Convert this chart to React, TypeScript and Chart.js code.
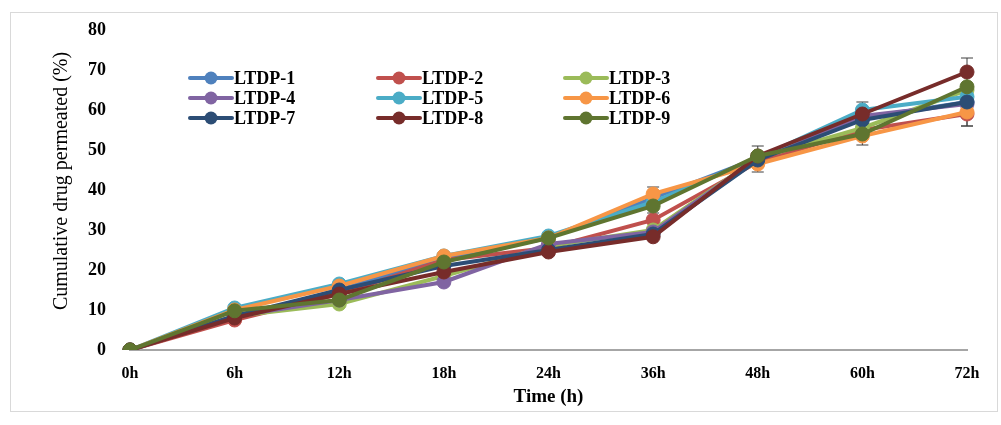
import React, { useEffect, useRef } from "react";
import { Chart, registerables } from "chart.js";

Chart.register(...registerables);

const timeLabels = ["0h", "6h", "12h", "18h", "24h", "36h", "48h", "60h", "72h"];
const yTicks = [0, 10, 20, 30, 40, 50, 60, 70, 80];

const seriesNames = ["LTDP-1", "LTDP-2", "LTDP-3", "LTDP-4", "LTDP-5", "LTDP-6", "LTDP-7", "LTDP-8", "LTDP-9"];
const seriesColors = ["#4F81BD", "#C0504D", "#9BBB59", "#8064A2", "#4BACC6", "#F79646", "#2C4D75", "#772C2A", "#5F7530"];

const ltdp1 = [0, 8, 15, 23, 28, 38, 48, 58, 62];
const ltdp2 = [0, 7.5, 14, 22.5, 25.5, 32.5, 47, 55, 59];
const ltdp3 = [0, 8.5, 11.5, 18.5, 26, 30, 48, 55.5, 65];
const ltdp4 = [0, 8.5, 12.5, 17, 26.5, 29.5, 48, 58.5, 61.5];
const ltdp5 = [0, 10.5, 16.5, 23.5, 28.5, 37, 48, 60, 63.3];
const ltdp6 = [0, 10, 16, 23.5, 28, 39, 46.5, 53.5, 59.5];
const ltdp7 = [0, 8.5, 15, 21, 25, 29, 47.5, 57.5, 62];
const ltdp8 = [0, 8, 14, 19.5, 24.5, 28.3, 48.5, 59, 69.5];
const ltdp9 = [0, 9.8, 12.5, 22, 28, 36, 48.5, 54, 65.8];

const err1 = [0, 0, 0, 0, 0, 0, 0, 0, 0];
const err2 = [0, 0, 0, 0, 0, 1.75, 0, 0, 3];
const err3 = [0, 0, 0, 0, 0, 0, 0, 0, 0];
const err4 = [0, 0, 0, 0, 0, 0, 0, 0, 0];
const err5 = [0, 0, 0, 0, 0.8, 0, 0, 2, 0];
const err6 = [0, 0, 0, 0, 0, 1.75, 2, 0, 3.5];
const err7 = [0, 0, 0, 0, 0, 0, 0, 0, 0];
const err8 = [0, 0, 0, 0, 0, 0, 0, 0, 3.5];
const err9 = [0, 0, 0, 0, 0, 0, 2.5, 2.75, 0];

const seriesValues = [ltdp1, ltdp2, ltdp3, ltdp4, ltdp5, ltdp6, ltdp7, ltdp8, ltdp9];
const seriesErrors = [err1, err2, err3, err4, err5, err6, err7, err8, err9];

const xTitle = "Time (h)";
const yTitle = "Cumulative drug permeated (%)";

const SERIF = "'Liberation Serif', 'Times New Roman', serif";

const errorBarPlugin = {
  id: "errorBars",
  beforeDatasetsDraw(chart: any) {
    const ctx = chart.ctx;
    const ys = chart.scales.y;
    ctx.save();
    ctx.strokeStyle = "#3f3f3f";
    ctx.lineWidth = 1;
    chart.data.datasets.forEach((ds: any, i: number) => {
      const meta = chart.getDatasetMeta(i);
      const errs = seriesErrors[i];
      meta.data.forEach((pt: any, j: number) => {
        const e = errs[j];
        if (!e) return;
        const v = ds.data[j];
        const x = pt.x;
        const yt = ys.getPixelForValue(v + e);
        const yb = ys.getPixelForValue(v - e);
        ctx.beginPath();
        ctx.moveTo(x, yt);
        ctx.lineTo(x, yb);
        ctx.moveTo(x - 6, yt);
        ctx.lineTo(x + 6, yt);
        ctx.moveTo(x - 6, yb);
        ctx.lineTo(x + 6, yb);
        ctx.stroke();
      });
    });
    ctx.restore();
  },
};

const legendPlugin = {
  id: "gridLegend",
  beforeDatasetsDraw(chart: any) {
    const ctx = chart.ctx;
    const ca = chart.chartArea;
    const colX = [ca.left + 60, ca.left + 248, ca.left + 435];
    const rowY = [ca.top + 48, ca.top + 68, ca.top + 88];
    ctx.save();
    ctx.font = `bold 18px ${SERIF}`;
    ctx.textBaseline = "middle";
    ctx.textAlign = "left";
    seriesNames.forEach((name, i) => {
      const x0 = colX[i % 3];
      const y = rowY[Math.floor(i / 3)];
      const c = seriesColors[i];
      ctx.strokeStyle = c;
      ctx.lineWidth = 4;
      ctx.lineCap = "round";
      ctx.beginPath();
      ctx.moveTo(x0, y);
      ctx.lineTo(x0 + 42, y);
      ctx.stroke();
      ctx.fillStyle = c;
      ctx.beginPath();
      ctx.arc(x0 + 21, y, 6.5, 0, Math.PI * 2);
      ctx.fill();
      ctx.fillStyle = "#000";
      ctx.fillText(name, x0 + 44, y + 1);
    });
    ctx.restore();
  },
};

const titlePlugin = {
  id: "axisTitles",
  afterDraw(chart: any) {
    const ctx = chart.ctx;
    const ca = chart.chartArea;
    ctx.save();
    ctx.fillStyle = "#000";
    ctx.textAlign = "center";
    ctx.textBaseline = "middle";
    ctx.font = `bold 19px ${SERIF}`;
    ctx.fillText(xTitle, (ca.left + ca.right) / 2, ca.bottom + 47);
    ctx.translate(62, ca.top + 151);
    ctx.rotate(-Math.PI / 2);
    ctx.font = `20px ${SERIF}`;
    ctx.fillText(yTitle, 0, 0);
    ctx.restore();
  },
};

export default function App() {
  const ref = useRef<HTMLCanvasElement | null>(null);

  useEffect(() => {
    if (!ref.current) return;
    const chart = new Chart(ref.current, {
      type: "line",
      data: {
        labels: timeLabels,
        datasets: seriesNames.map((name, i) => ({
          label: name,
          data: seriesValues[i],
          borderColor: seriesColors[i],
          backgroundColor: seriesColors[i],
          pointBackgroundColor: seriesColors[i],
          pointBorderColor: seriesColors[i],
          borderWidth: 4,
          pointRadius: 7,
          pointBorderWidth: 1,
          tension: 0,
          order: seriesNames.length - 1 - i,
        })),
      },
      options: {
        responsive: false,
        animation: false,
        layout: { padding: { left: 0, right: 34, top: 30, bottom: 0 } },
        plugins: {
          legend: { display: false },
          tooltip: { enabled: false },
          title: { display: false },
        },
        scales: {
          x: {
            type: "category",
            offset: false,
            grid: { display: false, drawTicks: false },
            border: { display: true, color: "#a6a6a6", width: 2 },
            ticks: {
              color: "#000",
              font: { family: SERIF, size: 16, weight: "bold" },
              padding: 14,
              maxRotation: 0,
              autoSkip: false,
            },
            afterFit: (s: any) => {
              s.height = 75;
              s.paddingLeft = 0;
              s.paddingRight = 0;
            },
          },
          y: {
            min: 0,
            max: 80,
            afterBuildTicks: (s: any) => {
              s.ticks = yTicks.map((v) => ({ value: v }));
            },
            grid: { display: false, drawTicks: false },
            border: { display: false },
            ticks: {
              color: "#000",
              font: { family: SERIF, size: 18, weight: "bold" },
              padding: 24,
            },
            afterFit: (s: any) => {
              s.width = 130;
              s.paddingTop = 0;
              s.paddingBottom = 0;
            },
          },
        },
      },
      plugins: [errorBarPlugin, legendPlugin, titlePlugin],
    } as any);
    return () => chart.destroy();
  }, []);

  return (
    <div style={{ position: "fixed", left: 0, top: 0, width: 1001, height: 425, background: "#fff" }}>
      <div
        style={{
          position: "absolute",
          left: 10,
          top: 12,
          width: 988,
          height: 400,
          border: "1px solid #d9d9d9",
          boxSizing: "border-box",
        }}
      />
      <canvas ref={ref} width={1001} height={425} style={{ position: "absolute", left: 0, top: 0 }} />
    </div>
  );
}
